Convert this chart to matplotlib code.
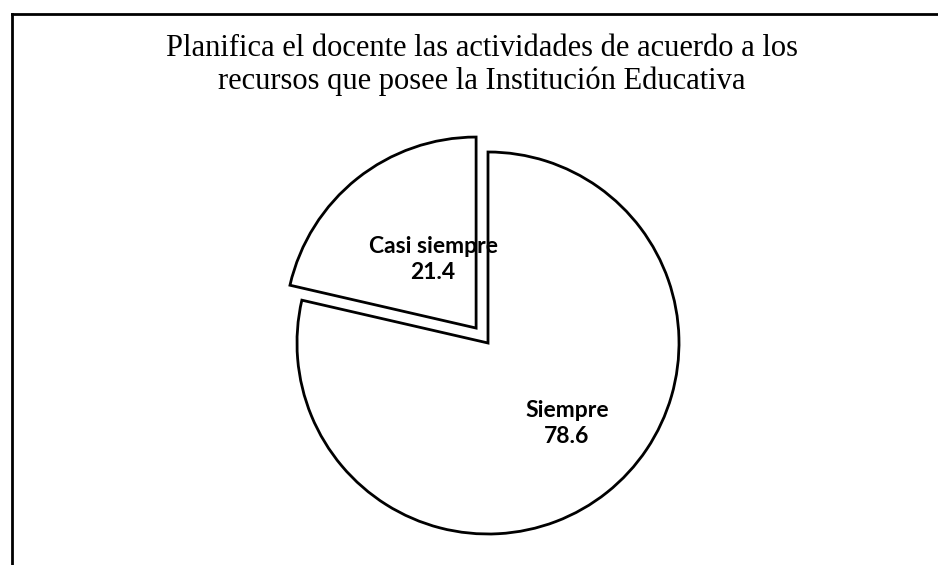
import matplotlib.pyplot as plt
from matplotlib.lines import Line2D

categories = ["Siempre", "Casi siempre"]
values = [78.6, 21.4]
explode = [0, 0.1]
title = "Planifica el docente las actividades de acuerdo a los\nrecursos que posee la Institución Educativa"

W, H = 938, 565
fig = plt.figure(figsize=(W / 100, H / 100), dpi=100)

# pie centre (488, 343) px, radius 191 px
cx, cy, R = 488, 343, 191
lim = 1.5
side = 2 * lim * R
ax = fig.add_axes([(cx - side / 2) / W, (H - cy - side / 2) / H, side / W, side / H])

labels = [f"{c}\n{v}" for c, v in zip(categories, values)]
wedges, texts = ax.pie(values, explode=explode, startangle=90, counterclock=False,
                       labels=labels, labeldistance=0.53,
                       colors=["white", "white"],
                       wedgeprops=dict(edgecolor="black", linewidth=2),
                       textprops=dict(fontsize=16.5, fontweight="bold", family="Lato",
                                      ha="center", va="center", linespacing=1.3))
# nudge labels a bit (px offsets) like the original
nudges = [(16, -1), (20, -11)]
for t, (dx, dy) in zip(texts, nudges):
    t.set_horizontalalignment("center")
    x, y = t.get_position()
    t.set_position((x + dx / R, y + dy / R))
ax.set_xlim(-lim, lim)
ax.set_ylim(-lim, lim)
ax.axis("off")

fig.text(482 / W, 1 - 65 / H, title, ha="center", va="center",
         family="Liberation Serif", fontsize=22, linespacing=1.18)

# frame: top and left edges only
fig.add_artist(Line2D([12 / W, 1], [1 - 14 / H, 1 - 14 / H], transform=fig.transFigure,
                      color="black", linewidth=2))
fig.add_artist(Line2D([12 / W, 12 / W], [0, 1 - 14 / H], transform=fig.transFigure,
                      color="black", linewidth=2))

fig.savefig("out.png", dpi=100)
